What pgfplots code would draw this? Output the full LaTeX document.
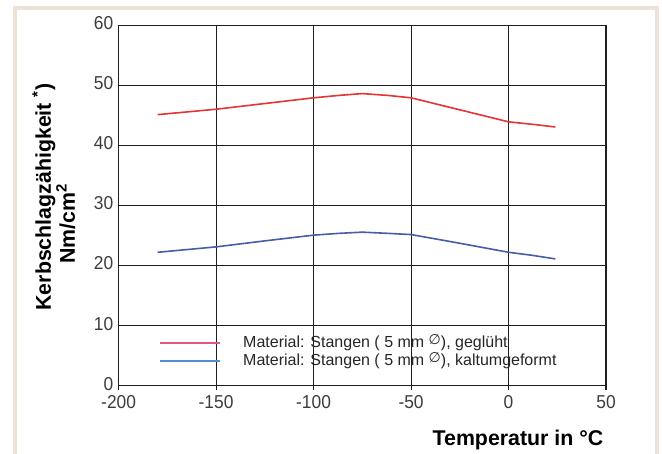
\documentclass[border=0pt]{standalone}
\usepackage{fontspec}
\setmainfont{Liberation Sans}
\newfontfamily\dejavu{DejaVu Sans}
\newfontfamily\tickfont[FakeStretch=0.93]{Liberation Sans}
\usepackage{pgfplots}
\pgfplotsset{compat=1.18}
\definecolor{frame}{RGB}{236,226,216}
\definecolor{redline}{RGB}{228,52,52}
\definecolor{blueline}{RGB}{72,92,168}
\definecolor{legred}{RGB}{225,85,135}
\definecolor{legblue}{RGB}{85,140,210}
\definecolor{ticklab}{RGB}{60,60,60}
\definecolor{gridc}{RGB}{30,30,30}
\begin{document}
\begin{tikzpicture}
\useasboundingbox[fill=white] (-88.95pt,-51.2pt) rectangle (407.55pt,289.3pt);
\draw[frame, line width=2.4pt] (-77.7pt,-60pt) -- (-77.7pt,283.3pt) -- (403.8pt,283.3pt) -- (403.8pt,-60pt);
\begin{axis}[
  at={(0pt,0pt)}, anchor=south west,
  scale only axis, width=365.6pt, height=270.5pt,
  xmin=-200, xmax=50, ymin=0, ymax=60,
  xtick={-200,-150,...,50}, ytick={0,10,...,60},
  grid=major,
  grid style={gridc, line width=0.85pt},
  axis line style={gridc, line width=0.85pt},
  tick align=outside, major tick length=3pt,
  xtick pos=bottom, ytick pos=left,
  tick style={gridc, line width=0.85pt},
  ytick style={draw=none},
  /pgf/number format/assume math mode=true,
  every tick label/.append style={font=\tickfont\fontsize{14}{16}\selectfont, text=ticklab},
  xticklabel style={yshift=-1pt},
  yticklabel style={xshift=2.5pt, yshift=1.5pt},
  legend style={draw=none, fill=none, at={(0.083,0.143)}, anchor=north west,
    inner sep=0pt, row sep=0pt,
    nodes={inner sep=0pt, text height=9.8pt, text depth=3.7pt, font=\fontsize{12}{14}\selectfont, text=black!85}},
  legend cell align=left,
]
\addplot[redline, line width=1.2pt, forget plot] coordinates {
(-180,45.1) (-150,46.0) (-125,46.95) (-100,47.9) (-87,48.3) (-75,48.6) (-62,48.3) (-50,47.9) (-25,45.9) (0,43.9) (12,43.5) (24,43.05)};
\addplot[blueline, line width=1.2pt, forget plot] coordinates {
(-180,22.2) (-150,23.1) (-125,24.1) (-100,25.05) (-87,25.35) (-75,25.55) (-62,25.35) (-50,25.15) (-25,23.7) (0,22.2) (12,21.7) (24,21.1)};
\addlegendimage{legend image code/.code={\draw[legred, line width=1.4pt] (0pt,0pt) -- (45pt,0pt); \path (62pt,0pt);}}
\addlegendentry{Material: Stangen ( 5 mm {\dejavu\raisebox{0.3ex}{\fontsize{10.5}{10}\selectfont ∅}}), geglüht}
\addlegendimage{legend image code/.code={\draw[legblue, line width=1.4pt] (0pt,0pt) -- (45pt,0pt); \path (62pt,0pt);}}
\addlegendentry{Material: Stangen ( 5 mm {\dejavu\raisebox{0.3ex}{\fontsize{10.5}{10}\selectfont ∅}}), kaltumgeformt}
\end{axis}
\node[rotate=90, anchor=base, font=\bfseries\fontsize{16}{18}\selectfont] at (-50.7pt,141.5pt) {Kerbschlagzähigkeit \textsuperscript{*})};
\node[rotate=90, anchor=base, font=\bfseries\fontsize{16}{18}\selectfont] at (-32.7pt,121.5pt) {Nm/cm\textsuperscript{2}};
\node[anchor=base east, font=\bfseries\fontsize{16}{18}\selectfont] at (367pt,-44.5pt) {Temperatur in °C};
\end{tikzpicture}
\end{document}
